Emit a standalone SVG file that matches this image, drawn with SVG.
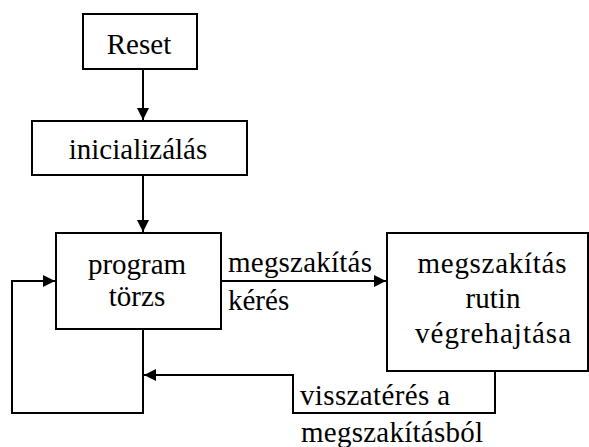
<svg xmlns="http://www.w3.org/2000/svg" width="589" height="447" viewBox="0 0 589 447" font-family="Liberation Serif, Tinos, serif">
  <style>
    .box { fill: #ffffff; stroke: #000000; stroke-width: 2; }
    .wire { fill: none; stroke: #000000; stroke-width: 2; }
    text { font-family: Liberation Serif, Tinos, serif !important; font-size: 29px; fill: #000000; }
    .mid { text-anchor: middle; }
  </style>
  <defs>
    <marker id="head" viewBox="0 0 12 12" refX="12" refY="6" markerWidth="12" markerHeight="12" markerUnits="userSpaceOnUse" orient="auto">
      <path d="M0,0 L12,6 L0,12 Z" fill="#000000"/>
    </marker>
  </defs>
  <rect width="589" height="447" fill="#ffffff"/>

  <!-- connectors -->
  <g id="connectors">
    <line class="wire" x1="143" y1="69" x2="143" y2="120" marker-end="url(#head)"/>
    <line class="wire" x1="143" y1="175" x2="143" y2="232" marker-end="url(#head)"/>
    <polyline class="wire" points="143,329 143,413 12,413 12,281 55,281" marker-end="url(#head)"/>
    <line class="wire" x1="221" y1="281" x2="386" y2="281" marker-end="url(#head)"/>
    <polyline class="wire" points="495,371 495,413 293,413 293,375 144,375" marker-end="url(#head)"/>
  </g>

  <g id="reset">
    <rect class="box" x="83" y="14" width="114" height="55"/>
    <text class="mid" x="139" y="54" style="font-family: 'Liberation Serif', serif">Reset</text>
  </g>

  <g id="inicializalas">
    <rect class="box" x="32" y="121" width="215" height="54"/>
    <text class="mid" x="138" y="159" style="font-family: 'Liberation Serif', serif">inicializálás</text>
  </g>

  <g id="program-torzs">
    <rect class="box" x="56" y="233" width="165" height="96"/>
    <text class="mid" x="137" y="274" style="font-family: 'Liberation Serif', serif">program</text>
    <text class="mid" x="137" y="306" style="font-family: 'Liberation Serif', serif">törzs</text>
  </g>

  <g id="megszakitas-rutin">
    <rect class="box" x="387" y="233" width="201" height="138"/>
    <text class="mid" x="492" y="273" textLength="149" style="font-family: 'Liberation Serif', serif">megszakítás</text>
    <text class="mid" x="493" y="308" style="font-family: 'Liberation Serif', serif">rutin</text>
    <text class="mid" x="493" y="343" textLength="156" style="font-family: 'Liberation Serif', serif">végrehajtása</text>
  </g>

  <g id="edge-labels">
    <text x="228" y="272" textLength="144" style="font-family: 'Liberation Serif', serif">megszakítás</text>
    <text x="228" y="310" style="font-family: 'Liberation Serif', serif">kérés</text>
    <text x="300" y="405" textLength="150" style="font-family: 'Liberation Serif', serif">visszatérés a</text>
    <text x="301" y="442" textLength="182" style="font-family: 'Liberation Serif', serif">megszakításból</text>
  </g>
</svg>
